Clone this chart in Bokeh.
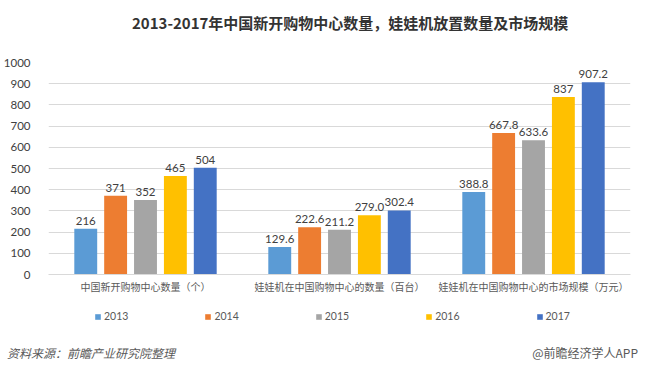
from bokeh.plotting import figure
from bokeh.layouts import column
from bokeh.models import (FactorRange, Range1d, ColumnDataSource, Legend, LegendItem, Div)
from bokeh.transform import dodge
from bokeh.core.properties import value
from bokeh.embed import file_html
from bokeh.resources import INLINE

title_text = "2013-2017年中国新开购物中心数量，娃娃机放置数量及市场规模"
categories = ["中国新开购物中心数量（个）", "娃娃机在中国购物中心的数量（百台）", "娃娃机在中国购物中心的市场规模（万元）"]
years = ["2013", "2014", "2015", "2016", "2017"]
v2013 = [216, 129.6, 388.8]
v2014 = [371, 222.6, 667.8]
v2015 = [352, 211.2, 633.6]
v2016 = [465, 279.0, 837]
v2017 = [504, 302.4, 907.2]
labels2013 = ["216", "129.6", "388.8"]
labels2014 = ["371", "222.6", "667.8"]
labels2015 = ["352", "211.2", "633.6"]
labels2016 = ["465", "279.0", "837"]
labels2017 = ["504", "302.4", "907.2"]
yticks = [0, 100, 200, 300, 400, 500, 600, 700, 800, 900, 1000]
colors = ["#5B9BD5", "#ED7D31", "#A5A5A5", "#FFC000", "#4472C4"]

series = [v2013, v2014, v2015, v2016, v2017]
series_labels = [labels2013, labels2014, labels2015, labels2016, labels2017]

CJK = "Noto Sans CJK SC"
NUM = "Lato"

header = Div(
    text=('<div style="box-sizing:border-box;width:648px;height:46px;line-height:46px;'
          'padding-left:132px;font-family:\'Noto Sans CJK SC\';font-weight:bold;'
          'font-size:15px;color:#333333;white-space:nowrap;">' + title_text + '</div>'),
    width=648, height=46, margin=0)

p = figure(x_range=FactorRange(factors=categories), y_range=Range1d(0, 1000),
           width=648, height=254, output_backend="svg", toolbar_location=None,
           min_border_left=45, min_border_right=18, min_border_top=16, min_border_bottom=26)
p.outline_line_color = None

# legend strip (frame aligned with the main plot)
p2 = figure(x_range=FactorRange(factors=categories), y_range=Range1d(2000, 3000),
            width=648, height=40, output_backend="svg", toolbar_location=None,
            x_axis_location=None, y_axis_location=None,
            min_border_left=45, min_border_right=18, min_border_top=0, min_border_bottom=0)
p2.outline_line_color = None
p2.xgrid.grid_line_color = None
p2.ygrid.grid_line_color = None

step = 0.154
bw = 0.118
items = []
for i, (vals, labs) in enumerate(zip(series, series_labels)):
    off = (i - 2) * step
    src = ColumnDataSource(dict(cat=categories, val=vals, lab=labs))
    p.vbar(x=dodge("cat", off, range=p.x_range), top="val", width=bw, source=src,
           fill_color=colors[i], line_color=None)
    p.text(x=dodge("cat", off, range=p.x_range), y="val", text="lab", source=src,
           text_align="center", text_baseline="bottom", y_offset=-4,
           text_font=value(NUM), text_font_size="11.5px", text_color="#404040")
    # legend key renderer (its bars lie below the strip's visible range)
    r = p2.vbar(x="cat", top="val", width=bw, source=src,
                fill_color=colors[i], line_color=None)
    items.append(LegendItem(label=years[i], renderers=[r]))

p.xgrid.grid_line_color = None
p.ygrid.grid_line_color = "#D9D9D9"
p.yaxis.ticker = yticks
p.yaxis.axis_line_color = None
p.yaxis.major_tick_line_color = None
p.yaxis.minor_tick_line_color = None
p.yaxis.major_label_text_font = NUM
p.yaxis.major_label_text_font_size = "11.5px"
p.yaxis.major_label_text_color = "#404040"
p.yaxis.major_label_standoff = 12

p.xaxis.axis_line_color = "#D9D9D9"
p.xaxis.major_tick_line_color = None
p.xaxis.minor_tick_line_color = None
p.xaxis.major_label_text_font = CJK
p.xaxis.major_label_text_font_size = "10px"
p.xaxis.major_label_text_color = "#595959"
p.xaxis.major_label_standoff = -2

legend = Legend(items=items, orientation="horizontal", location=(46, 17),
                spacing=76, glyph_width=7, glyph_height=7, label_text_font=NUM,
                label_text_font_size="10.5px", label_text_color="#595959",
                border_line_color=None, background_fill_alpha=0, label_standoff=3,
                padding=0, margin=0, label_height=14)
p2.add_layout(legend, "center")

footer = Div(
    text=('<div style="display:flex;justify-content:space-between;align-items:center;'
          'box-sizing:border-box;width:648px;height:26px;padding-left:7px;padding-right:10px;'
          'font-family:\'Noto Sans CJK SC\';font-size:12px;color:#595959;">'
          '<span style="font-style:italic">资料来源：前瞻产业研究院整理</span>'
          '<span>@前瞻经济学人APP</span></div>'),
    width=648, height=26, margin=0)

layout = column(header, p, p2, footer, spacing=0)
open("out.html", "w").write(file_html(layout, INLINE))
